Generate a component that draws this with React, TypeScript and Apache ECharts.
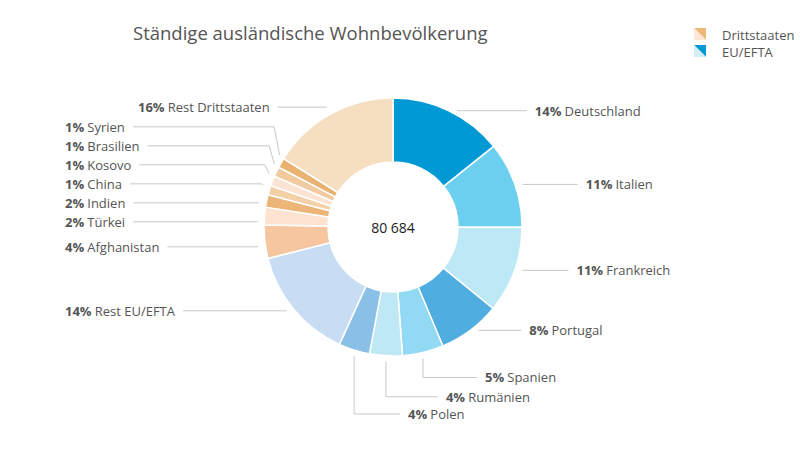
import React, { useEffect, useRef } from "react";
import * as echarts from "echarts";

const countries = [
  "Deutschland",
  "Italien",
  "Frankreich",
  "Portugal",
  "Spanien",
  "Rumänien",
  "Polen",
  "Rest EU/EFTA",
  "Afghanistan",
  "Türkei",
  "Indien",
  "China",
  "Kosovo",
  "Brasilien",
  "Syrien",
  "Rest Drittstaaten",
];
const residents = [
  11500, 8700, 8750, 6300, 4150, 3300, 3150, 11500, 3350, 1800, 1250, 950,
  1000, 1000, 1000, 12984,
];
const sliceColors = [
  "#0099d5", "#6ccff0", "#bde8f5", "#50ade0", "#92d9f3", "#bfe8f5", "#8abfe6",
  "#c8ddf3", "#f5c6a0", "#fde2d0", "#ebb677", "#f3d0a6", "#fde3d3", "#f2caa0",
  "#e9b271", "#f5dfc0",
];
const legendNames = ["Drittstaaten", "EU/EFTA"];
const title = "Ständige ausländische Wohnbevölkerung";

const FONT = "'Open Sans', 'Noto Sans', sans-serif";
const TEXT = "#555";
const LINE = "#c8c8c8";

// label line: [radial length, horizontal length]
const lineLen: Record<string, [number, number]> = {
  Deutschland: [0, 78],
  Italien: [0, 63],
  Frankreich: [0, 54],
  Portugal: [0, 51],
  "Rest Drittstaaten": [8, 49],
  "Rest EU/EFTA": [2, 10],
};
// labels hanging below the ring: [drop, run]
const hanging: Record<string, [number, number]> = {
  Spanien: [25, 54],
  Rumänien: [41, 52],
  Polen: [64, 46],
};
const edgeLabels = [
  "Rest EU/EFTA",
  "Afghanistan",
  "Türkei",
  "Indien",
  "China",
  "Kosovo",
  "Brasilien",
  "Syrien",
];
// how far the stacked small labels on the left are moved up
const clusterLift: Record<string, number> = { Afghanistan: 26 };
const defaultLift = 32;
const lineGap = 8;
const labelDist = 8;

function trimStart(pts: number[][], gap: number) {
  let rest = gap;
  for (let i = 0; i < pts.length - 1; i++) {
    const [x0, y0] = pts[i];
    const [x1, y1] = pts[i + 1];
    const d = Math.hypot(x1 - x0, y1 - y0);
    if (d > rest) {
      const t = rest / d;
      return [[x0 + (x1 - x0) * t, y0 + (y1 - y0) * t], ...pts.slice(i + 1)];
    }
    rest -= d;
  }
  return pts;
}

export default function App() {
  const ref = useRef<HTMLDivElement>(null);

  useEffect(() => {
    if (!ref.current) return;
    const chart = echarts.init(ref.current, undefined, { renderer: "svg" });
    const total = residents.reduce((a, b) => a + b, 0);
    const totalText = String(total).replace(/\B(?=(\d{3})+(?!\d))/g, " ");

    const data = countries.map((name, i) => {
      const isEdge = edgeLabels.includes(name);
      const len = lineLen[name] || [8, 10];
      return {
        name,
        value: residents[i],
        itemStyle: { color: sliceColors[i] },
        label: isEdge ? { alignTo: "edge" } : { alignTo: "none" },
        labelLine: { length: len[0], length2: len[1] },
      };
    });

    chart.setOption({
      animation: false,
      title: {
        text: title,
        left: 128,
        top: 18,
        textStyle: {
          fontFamily: FONT,
          fontSize: 18.5,
          fontWeight: "normal",
          color: TEXT,
        },
      },
      graphic: [
        { type: "polygon", shape: { points: [[694, 28], [706, 28], [706, 40]] }, style: { fill: "#edb87a" } },
        { type: "polygon", shape: { points: [[694, 28], [706, 40], [694, 40]] }, style: { fill: "#fde6d4" } },
        { type: "polygon", shape: { points: [[694, 45], [706, 45], [706, 57]] }, style: { fill: "#0099d5" } },
        { type: "polygon", shape: { points: [[694, 45], [706, 57], [694, 57]] }, style: { fill: "#d3edf9" } },
        {
          type: "text",
          x: 722,
          y: 35,
          style: { text: legendNames[0], font: `13px ${FONT}`, fill: TEXT, verticalAlign: "middle" },
        },
        {
          type: "text",
          x: 722,
          y: 52,
          style: { text: legendNames[1], font: `13px ${FONT}`, fill: TEXT, verticalAlign: "middle" },
        },
        {
          type: "text",
          x: 393,
          y: 227,
          style: {
            text: totalText,
            font: `14px ${FONT}`,
            fill: "#222",
            align: "center",
            verticalAlign: "middle",
          },
        },
      ],
      series: [
        {
          type: "pie",
          left: 0,
          top: 0,
          width: 800,
          height: 450,
          center: [393, 227],
          radius: [65, 129],
          startAngle: 90,
          clockwise: true,
          itemStyle: { borderColor: "#fff", borderWidth: 1.5 },
          emphasis: { disabled: true },
          label: {
            show: true,
            position: "outer",
            edgeDistance: 65,
            distanceToLabelLine: labelDist,
            fontFamily: FONT,
            lineHeight: 17,
            formatter: (p: any) => `{b|${Math.round(p.percent)}%} {n|${p.name}}`,
            rich: {
              b: { fontFamily: FONT, fontSize: 13, fontWeight: "bold", color: TEXT, lineHeight: 17 },
              n: { fontFamily: FONT, fontSize: 13, color: TEXT, lineHeight: 17 },
            },
          },
          labelLine: { show: true, lineStyle: { color: LINE, width: 1 } },
          labelLayout: (params: any) => {
            const name = countries[params.dataIndex];
            const pts: number[][] = params.labelLinePoints;
            if (!pts) return {};
            const p0 = pts[0];
            if (hanging[name]) {
              const [drop, run] = hanging[name];
              const y = p0[1] + drop;
              return {
                x: p0[0] + run + labelDist,
                y,
                align: "left",
                verticalAlign: "middle",
                labelLinePoints: [
                  [p0[0], p0[1] + 6],
                  [p0[0], y],
                  [p0[0] + run, y],
                ],
              };
            }
            if (edgeLabels.includes(name) && name !== "Rest EU/EFTA") {
              const r = params.labelRect;
              const lift = clusterLift[name] ?? defaultLift;
              const y = r.y + r.height / 2 - lift;
              return {
                y,
                labelLinePoints: trimStart(
                  [p0, [pts[1][0], y], [pts[2][0], y]],
                  lineGap
                ),
              };
            }
            return { labelLinePoints: trimStart(pts, lineGap) };
          },
          data,
        },
      ],
    });

    return () => chart.dispose();
  }, []);

  return (
    <div
      ref={ref}
      style={{ position: "fixed", left: 0, top: 0, width: 800, height: 450, background: "#fff" }}
    />
  );
}
